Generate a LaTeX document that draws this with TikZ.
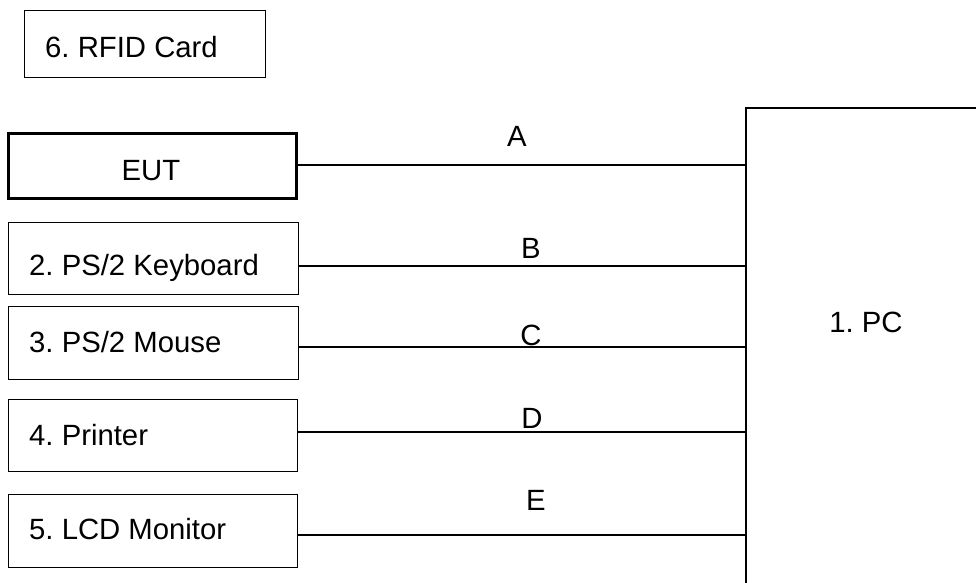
\documentclass[tikz,border=0pt]{standalone}
\usepackage{fontspec}
\setmainfont{Liberation Sans}
\frenchspacing
\begin{document}
\begin{tikzpicture}[x=1pt,y=-1pt,
  box/.style={draw=black,line width=1.4pt,rectangle,inner sep=0pt,anchor=north west},
  lbl/.style={inner sep=0pt,font=\fontsize{29.3}{35}\selectfont},
  wire/.style={draw=black,line width=1.4pt}]
\clip (0,0) rectangle (976,582);
\fill[white] (0,0) rectangle (976,582);
% boxes
\node[box,minimum width=241pt,minimum height=67pt] (rfid) at (24,10) {};
\node[box,line width=3pt,minimum width=288pt,minimum height=65pt] (eut) at (7,132) {};
\node[box,minimum width=290pt,minimum height=72pt] (kb) at (8,222) {};
\node[box,minimum width=290pt,minimum height=73pt] (ms) at (8,306) {};
\node[box,minimum width=289pt,minimum height=72pt] (pr) at (8,399) {};
\node[box,minimum width=289pt,minimum height=73pt] (lcd) at (8,494) {};
\node[box,line width=2pt,minimum width=300pt,minimum height=520pt] (pc) at (745,107) {};
% box texts
\node[lbl,anchor=base west] (trfid) at (45,57) {6. RFID Card};
\node[lbl,anchor=base] (teut) at (151,180) {EUT};
\node[lbl,anchor=base west] (tkb) at (29,275) {2. PS/2 Keyboard};
\node[lbl,anchor=base west] (tms) at (29,352) {3. PS/2 Mouse};
\node[lbl,anchor=base west] (tpr) at (29,445) {4. Printer};
\node[lbl,anchor=base west] (tlcd) at (29,539) {5. LCD Monitor};
\node[lbl,anchor=base] (tpc) at (866,332) {1. PC};
% connection points
\coordinate (ya) at (0,165);
\coordinate (yb) at (0,266);
\coordinate (yc) at (0,347);
\coordinate (yd) at (0,432);
\coordinate (ye) at (0,535);
\draw[wire] (eut.east |- ya) -- (pc.west |- ya);
\draw[wire] (kb.east |- yb) -- (pc.west |- yb);
\draw[wire] (ms.east |- yc) -- (pc.west |- yc);
\draw[wire] (pr.east |- yd) -- (pc.west |- yd);
\draw[wire] (lcd.east |- ye) -- (pc.west |- ye);
% cable labels
\node[lbl,anchor=base] (la) at (517,146) {A};
\node[lbl,anchor=base] (lb) at (531,258) {B};
\node[lbl,anchor=base] (lc) at (531,345) {C};
\node[lbl,anchor=base] (ld) at (532,428) {D};
\node[lbl,anchor=base] (le) at (536,510) {E};
\end{tikzpicture}
\end{document}
